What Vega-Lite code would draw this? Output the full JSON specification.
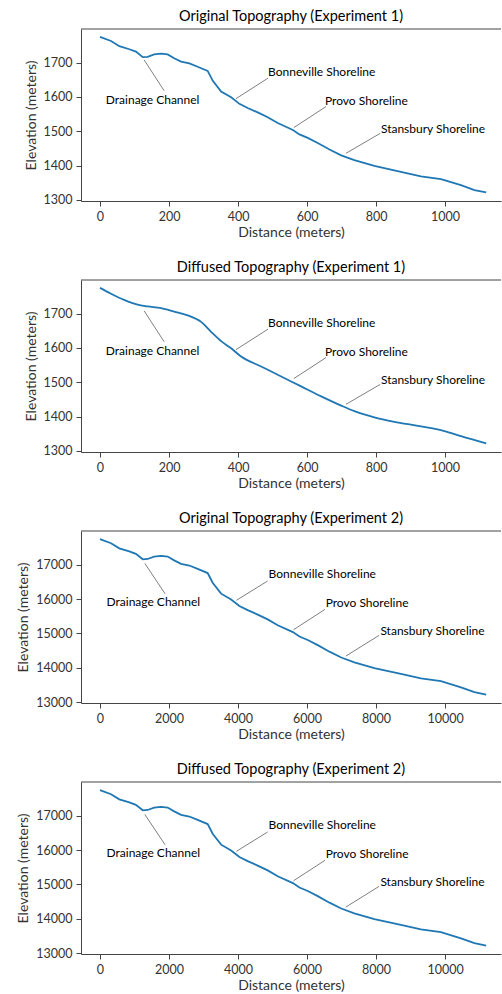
{
  "$schema": "https://vega.github.io/schema/vega-lite/v6.json",
  "padding": {"left": 16, "top": 9, "right": 0, "bottom": 0},
  "bounds": "flush",
  "spacing": 79,
  "datasets": {
    "orig1": [
      {"d": 0, "e": 1775}, {"d": 32, "e": 1763}, {"d": 56, "e": 1748}, {"d": 85, "e": 1739}, {"d": 104, "e": 1732},
      {"d": 124, "e": 1716}, {"d": 138, "e": 1717}, {"d": 157, "e": 1724}, {"d": 177, "e": 1726}, {"d": 196, "e": 1724},
      {"d": 215, "e": 1713}, {"d": 235, "e": 1703}, {"d": 259, "e": 1698}, {"d": 283, "e": 1688}, {"d": 312, "e": 1676},
      {"d": 327, "e": 1647}, {"d": 351, "e": 1616}, {"d": 380, "e": 1599}, {"d": 404, "e": 1580}, {"d": 428, "e": 1568},
      {"d": 457, "e": 1555}, {"d": 486, "e": 1541}, {"d": 515, "e": 1524}, {"d": 559, "e": 1504}, {"d": 578, "e": 1491},
      {"d": 602, "e": 1481}, {"d": 631, "e": 1466}, {"d": 665, "e": 1447}, {"d": 699, "e": 1430}, {"d": 737, "e": 1416},
      {"d": 795, "e": 1399}, {"d": 872, "e": 1382}, {"d": 930, "e": 1369}, {"d": 988, "e": 1361}, {"d": 1046, "e": 1343},
      {"d": 1085, "e": 1329}, {"d": 1119, "e": 1322}
    ],
    "diff1": [
      {"d": 0, "e": 1775}, {"d": 32, "e": 1758}, {"d": 70, "e": 1740}, {"d": 109, "e": 1726}, {"d": 138, "e": 1721},
      {"d": 177, "e": 1716}, {"d": 215, "e": 1706}, {"d": 254, "e": 1695}, {"d": 293, "e": 1676}, {"d": 322, "e": 1647},
      {"d": 351, "e": 1620}, {"d": 380, "e": 1599}, {"d": 409, "e": 1575}, {"d": 467, "e": 1546}, {"d": 525, "e": 1517},
      {"d": 583, "e": 1488}, {"d": 641, "e": 1459}, {"d": 699, "e": 1432}, {"d": 737, "e": 1416}, {"d": 795, "e": 1398},
      {"d": 853, "e": 1385}, {"d": 921, "e": 1373}, {"d": 998, "e": 1358}, {"d": 1046, "e": 1343}, {"d": 1119, "e": 1322}
    ],
    "orig2": [
      {"d": 0, "e": 17750}, {"d": 320, "e": 17630}, {"d": 560, "e": 17480}, {"d": 850, "e": 17390}, {"d": 1040, "e": 17320},
      {"d": 1240, "e": 17160}, {"d": 1380, "e": 17170}, {"d": 1570, "e": 17240}, {"d": 1770, "e": 17260}, {"d": 1960, "e": 17240},
      {"d": 2150, "e": 17130}, {"d": 2350, "e": 17030}, {"d": 2590, "e": 16980}, {"d": 2830, "e": 16880}, {"d": 3120, "e": 16760},
      {"d": 3270, "e": 16470}, {"d": 3510, "e": 16160}, {"d": 3800, "e": 15990}, {"d": 4040, "e": 15800}, {"d": 4280, "e": 15680},
      {"d": 4570, "e": 15550}, {"d": 4860, "e": 15410}, {"d": 5150, "e": 15240}, {"d": 5590, "e": 15040}, {"d": 5780, "e": 14910},
      {"d": 6020, "e": 14810}, {"d": 6310, "e": 14660}, {"d": 6650, "e": 14470}, {"d": 6990, "e": 14300}, {"d": 7370, "e": 14160},
      {"d": 7950, "e": 13990}, {"d": 8720, "e": 13820}, {"d": 9300, "e": 13690}, {"d": 9880, "e": 13610}, {"d": 10460, "e": 13430},
      {"d": 10850, "e": 13290}, {"d": 11190, "e": 13220}
    ],
    "lead1": [
      {"d": 128, "e": 1708, "d2": 186, "e2": 1618},
      {"d": 394, "e": 1595, "d2": 487, "e2": 1655},
      {"d": 562, "e": 1511, "d2": 655, "e2": 1572},
      {"d": 713, "e": 1436, "d2": 812, "e2": 1494}
    ],
    "lab1": [
      {"d": 17, "e": 1590, "label": "Drainage Channel"},
      {"d": 487, "e": 1673, "label": "Bonneville Shoreline"},
      {"d": 652, "e": 1589, "label": "Provo Shoreline"},
      {"d": 814, "e": 1508, "label": "Stansbury Shoreline"}
    ],
    "lead2": [
      {"d": 1300, "e": 17040, "d2": 1886, "e2": 16157},
      {"d": 3952, "e": 15965, "d2": 4857, "e2": 16528},
      {"d": 5607, "e": 15108, "d2": 6519, "e2": 15703},
      {"d": 7124, "e": 14341, "d2": 8087, "e2": 14945}
    ],
    "lab2": [
      {"d": 190, "e": 15905, "label": "Drainage Channel"},
      {"d": 4886, "e": 16740, "label": "Bonneville Shoreline"},
      {"d": 6539, "e": 15895, "label": "Provo Shoreline"},
      {"d": 8125, "e": 15079, "label": "Stansbury Shoreline"}
    ],
    "top1": [{"d": -55, "d2": 1162, "e": 1798}],
    "top2": [{"d": -550, "d2": 11620, "e": 17985}]
  },
  "config": {
    "font": "Lato",
    "view": {"stroke": null},
    "axis": {
      "grid": false,
      "domainColor": "#444",
      "domainWidth": 1,
      "tickColor": "#444",
      "labelColor": "#333",
      "titleColor": "#333",
      "labelFontSize": 12.5,
      "titleFontSize": 14,
      "titleFontWeight": "normal",
      "tickSize": 5,
      "labelPadding": 4
    },
    "axisY": {"titlePadding": 5},
    "axisX": {"titlePadding": 3},
    "title": {"fontSize": 14.5, "fontWeight": "normal", "color": "#000", "offset": 4}
  },
  "vconcat": [
    {
      "title": "Original Topography (Experiment 1)",
      "width": 420, "height": 172,
      "layer": [
        {
          "data": {"name": "orig1"},
          "mark": {"type": "line", "color": "#1f77b4", "strokeWidth": 1.8},
          "encoding": {
            "x": {"field": "d", "type": "quantitative", "title": "Distance (meters)", "scale": {"domain": [-55, 1162], "nice": false, "zero": false}, "axis": {"values": [0, 200, 400, 600, 800, 1000], "format": "d"}},
            "y": {"field": "e", "type": "quantitative", "title": "Elevation (meters)", "scale": {"domain": [1297, 1798], "nice": false, "zero": false}, "axis": {"values": [1300, 1400, 1500, 1600, 1700], "format": "d"}}
          }
        },
        {
          "data": {"name": "lead1"},
          "mark": {"type": "rule", "color": "#7f7f7f", "strokeWidth": 1},
          "encoding": {
            "x": {"field": "d", "type": "quantitative", "title": "Distance (meters)"},
            "y": {"field": "e", "type": "quantitative", "title": "Elevation (meters)"},
            "x2": {"field": "d2"},
            "y2": {"field": "e2"}
          }
        },
        {
          "data": {"name": "lab1"},
          "mark": {"type": "text", "align": "left", "baseline": "middle", "fontSize": 12, "color": "#000"},
          "encoding": {
            "x": {"field": "d", "type": "quantitative", "title": "Distance (meters)"},
            "y": {"field": "e", "type": "quantitative", "title": "Elevation (meters)"},
            "text": {"field": "label"}
          }
        },
        {
          "data": {"name": "top1"},
          "mark": {"type": "rule", "color": "#444", "strokeWidth": 1},
          "encoding": {
            "x": {"field": "d", "type": "quantitative", "title": "Distance (meters)"},
            "x2": {"field": "d2"},
            "y": {"field": "e", "type": "quantitative", "title": "Elevation (meters)"}
          }
        }
      ]
    },
    {
      "title": "Diffused Topography (Experiment 1)",
      "width": 420, "height": 172,
      "layer": [
        {
          "data": {"name": "diff1"},
          "mark": {"type": "line", "color": "#1f77b4", "strokeWidth": 1.8, "interpolate": "monotone"},
          "encoding": {
            "x": {"field": "d", "type": "quantitative", "title": "Distance (meters)", "scale": {"domain": [-55, 1162], "nice": false, "zero": false}, "axis": {"values": [0, 200, 400, 600, 800, 1000], "format": "d"}},
            "y": {"field": "e", "type": "quantitative", "title": "Elevation (meters)", "scale": {"domain": [1297, 1798], "nice": false, "zero": false}, "axis": {"values": [1300, 1400, 1500, 1600, 1700], "format": "d"}}
          }
        },
        {
          "data": {"name": "lead1"},
          "mark": {"type": "rule", "color": "#7f7f7f", "strokeWidth": 1},
          "encoding": {
            "x": {"field": "d", "type": "quantitative", "title": "Distance (meters)"},
            "y": {"field": "e", "type": "quantitative", "title": "Elevation (meters)"},
            "x2": {"field": "d2"},
            "y2": {"field": "e2"}
          }
        },
        {
          "data": {"name": "lab1"},
          "mark": {"type": "text", "align": "left", "baseline": "middle", "fontSize": 12, "color": "#000"},
          "encoding": {
            "x": {"field": "d", "type": "quantitative", "title": "Distance (meters)"},
            "y": {"field": "e", "type": "quantitative", "title": "Elevation (meters)"},
            "text": {"field": "label"}
          }
        },
        {
          "data": {"name": "top1"},
          "mark": {"type": "rule", "color": "#444", "strokeWidth": 1},
          "encoding": {
            "x": {"field": "d", "type": "quantitative", "title": "Distance (meters)"},
            "x2": {"field": "d2"},
            "y": {"field": "e", "type": "quantitative", "title": "Elevation (meters)"}
          }
        }
      ]
    },
    {
      "title": "Original Topography (Experiment 2)",
      "width": 420, "height": 172,
      "layer": [
        {
          "data": {"name": "orig2"},
          "mark": {"type": "line", "color": "#1f77b4", "strokeWidth": 1.8},
          "encoding": {
            "x": {"field": "d", "type": "quantitative", "title": "Distance (meters)", "scale": {"domain": [-550, 11620], "nice": false, "zero": false}, "axis": {"values": [0, 2000, 4000, 6000, 8000, 10000], "format": "d"}},
            "y": {"field": "e", "type": "quantitative", "title": "Elevation (meters)", "scale": {"domain": [12975, 17985], "nice": false, "zero": false}, "axis": {"values": [13000, 14000, 15000, 16000, 17000], "format": "d"}}
          }
        },
        {
          "data": {"name": "lead2"},
          "mark": {"type": "rule", "color": "#7f7f7f", "strokeWidth": 1},
          "encoding": {
            "x": {"field": "d", "type": "quantitative", "title": "Distance (meters)"},
            "y": {"field": "e", "type": "quantitative", "title": "Elevation (meters)"},
            "x2": {"field": "d2"},
            "y2": {"field": "e2"}
          }
        },
        {
          "data": {"name": "lab2"},
          "mark": {"type": "text", "align": "left", "baseline": "middle", "fontSize": 12, "color": "#000"},
          "encoding": {
            "x": {"field": "d", "type": "quantitative", "title": "Distance (meters)"},
            "y": {"field": "e", "type": "quantitative", "title": "Elevation (meters)"},
            "text": {"field": "label"}
          }
        },
        {
          "data": {"name": "top2"},
          "mark": {"type": "rule", "color": "#444", "strokeWidth": 1},
          "encoding": {
            "x": {"field": "d", "type": "quantitative", "title": "Distance (meters)"},
            "x2": {"field": "d2"},
            "y": {"field": "e", "type": "quantitative", "title": "Elevation (meters)"}
          }
        }
      ]
    },
    {
      "title": "Diffused Topography (Experiment 2)",
      "width": 420, "height": 172,
      "layer": [
        {
          "data": {"name": "orig2"},
          "mark": {"type": "line", "color": "#1f77b4", "strokeWidth": 1.8},
          "encoding": {
            "x": {"field": "d", "type": "quantitative", "title": "Distance (meters)", "scale": {"domain": [-550, 11620], "nice": false, "zero": false}, "axis": {"values": [0, 2000, 4000, 6000, 8000, 10000], "format": "d"}},
            "y": {"field": "e", "type": "quantitative", "title": "Elevation (meters)", "scale": {"domain": [12975, 17985], "nice": false, "zero": false}, "axis": {"values": [13000, 14000, 15000, 16000, 17000], "format": "d"}}
          }
        },
        {
          "data": {"name": "lead2"},
          "mark": {"type": "rule", "color": "#7f7f7f", "strokeWidth": 1},
          "encoding": {
            "x": {"field": "d", "type": "quantitative", "title": "Distance (meters)"},
            "y": {"field": "e", "type": "quantitative", "title": "Elevation (meters)"},
            "x2": {"field": "d2"},
            "y2": {"field": "e2"}
          }
        },
        {
          "data": {"name": "lab2"},
          "mark": {"type": "text", "align": "left", "baseline": "middle", "fontSize": 12, "color": "#000"},
          "encoding": {
            "x": {"field": "d", "type": "quantitative", "title": "Distance (meters)"},
            "y": {"field": "e", "type": "quantitative", "title": "Elevation (meters)"},
            "text": {"field": "label"}
          }
        },
        {
          "data": {"name": "top2"},
          "mark": {"type": "rule", "color": "#444", "strokeWidth": 1},
          "encoding": {
            "x": {"field": "d", "type": "quantitative", "title": "Distance (meters)"},
            "x2": {"field": "d2"},
            "y": {"field": "e", "type": "quantitative", "title": "Elevation (meters)"}
          }
        }
      ]
    }
  ]
}
